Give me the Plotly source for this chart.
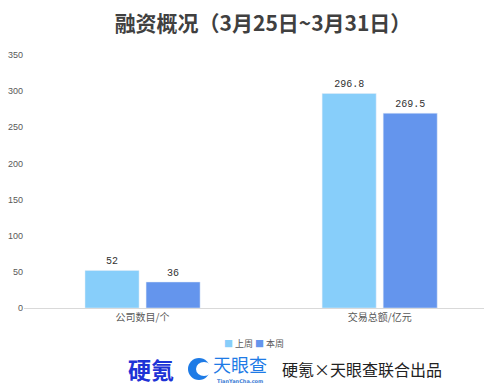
import plotly.graph_objects as go

categories = ["公司数目/个", "交易总额/亿元"]
last_week = [52, 296.8]
this_week = [36, 269.5]
last_labels = ["52", "296.8"]
this_labels = ["36", "269.5"]
y_ticks = [0, 50, 100, 150, 200, 250, 300, 350]
series_names = ["上周", "本周"]
series_colors = ["#87CEFA", "#6495ED"]

W, H = 484, 386
L, R, T, B = 24, 0, 55, 78
pw, ph = W - L - R, H - T - B

def px(x):
    return (x - L) / pw

def py(y):
    return (H - B - y) / ph

fig = go.Figure()
for name, vals, labels, color in [
    (series_names[0], last_week, last_labels, series_colors[0]),
    (series_names[1], this_week, this_labels, series_colors[1]),
]:
    fig.add_trace(go.Bar(
        x=[0, 1], y=vals, name=name, marker_color=color,
        text=labels, textposition="outside", cliponaxis=False,
        textfont=dict(size=10, color="#333333", family="Liberation Mono"),
    ))

fig.update_layout(
    width=W, height=H,
    margin=dict(l=L, r=R, t=T, b=B, autoexpand=False),
    paper_bgcolor="white", plot_bgcolor="white",
    barmode="group", bargap=0.485, bargroupgap=0.115,
    font=dict(family="Noto Sans CJK SC", size=10, color="#595959"),
    title=dict(
        text="<b>融资概况（3月25日~3月31日）</b>",
        x=263 / W, xanchor="center", y=1 - 24 / H, yanchor="middle",
        font=dict(size=21, color="#404040", family="Noto Sans CJK SC"),
    ),
    xaxis=dict(
        range=[-0.5, 1.44], tickmode="array", tickvals=[0, 1], ticktext=categories,
        showgrid=False, zeroline=False, showline=True, linecolor="#D9D9D9",
        linewidth=1, ticks="", tickfont=dict(size=10, color="#595959"),
        fixedrange=True,
    ),
    yaxis=dict(
        range=[0, 350], tickvals=y_ticks, showgrid=False, zeroline=False,
        showline=False, ticks="", tickfont=dict(size=9, color="#595959", family="Liberation Sans"),
        fixedrange=True,
    ),
    showlegend=False,
)

# Compact legend
legend_text = (
    f"<span style='color:{series_colors[0]}'>■</span> {series_names[0]} "
    f"<span style='color:{series_colors[1]}'>■</span> {series_names[1]}"
)
fig.add_annotation(
    xref="paper", yref="paper", x=px(254), y=py(343), xanchor="center", yanchor="middle",
    text=legend_text, showarrow=False, font=dict(size=9, color="#595959"),
)

# Bottom logos / credits
fig.add_annotation(
    xref="paper", yref="paper", x=px(151), y=py(369), xanchor="center", yanchor="middle",
    text="<b>硬氪</b>", showarrow=False,
    font=dict(size=23, color="#1E33D6", family="Noto Sans CJK SC"),
)
fig.add_shape(
    type="circle", xref="paper", yref="paper",
    x0=px(188), x1=px(210), y0=py(380), y1=py(358),
    fillcolor="#1E7BE6", line=dict(width=0),
)
fig.add_shape(
    type="circle", xref="paper", yref="paper",
    x0=px(196), x1=px(212), y0=py(376), y1=py(362),
    fillcolor="white", line=dict(width=0),
)
fig.add_annotation(
    xref="paper", yref="paper", x=px(240), y=py(364), xanchor="center", yanchor="middle",
    text="天眼查", showarrow=False,
    font=dict(size=18, color="#1E7BE6", family="Noto Sans CJK SC"),
)
fig.add_annotation(
    xref="paper", yref="paper", x=px(240), y=py(381), xanchor="center", yanchor="middle",
    text="<b>TianYanCha.com</b>", showarrow=False,
    font=dict(size=5, color="#3A7BD5", family="DejaVu Sans"),
)
fig.add_annotation(
    xref="paper", yref="paper", x=px(362), y=py(369), xanchor="center", yanchor="middle",
    text="硬氪×天眼查联合出品", showarrow=False,
    font=dict(size=16, color="#222222", family="Noto Sans CJK SC"),
)

fig.write_html(
    "out.html",
    config={"displayModeBar": False},
    post_script="document.body.style.margin='0';",
)
